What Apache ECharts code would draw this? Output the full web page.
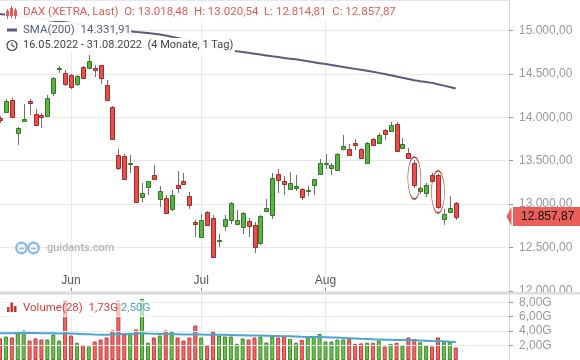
<!DOCTYPE html>
<html><head><meta charset="utf-8">
<script src="https://cdn.jsdelivr.net/npm/echarts@6/dist/echarts.min.js"></script>
<style>html,body{margin:0;padding:0;background:#fff}#c{width:580px;height:360px}</style>
</head><body><div id="c"></div>
<script>
// ---------- data ----------
const dates = [
'2022-05-16','2022-05-17','2022-05-18','2022-05-19','2022-05-20','2022-05-23','2022-05-24','2022-05-25','2022-05-26','2022-05-27','2022-05-30','2022-05-31',
'2022-06-01','2022-06-02','2022-06-03','2022-06-06','2022-06-07','2022-06-08','2022-06-09','2022-06-10','2022-06-13','2022-06-14','2022-06-15','2022-06-16','2022-06-17','2022-06-20','2022-06-21','2022-06-22','2022-06-23','2022-06-24','2022-06-27','2022-06-28','2022-06-29','2022-06-30',
'2022-07-01','2022-07-04','2022-07-05','2022-07-06','2022-07-07','2022-07-08','2022-07-11','2022-07-12','2022-07-13','2022-07-14','2022-07-15','2022-07-18','2022-07-19','2022-07-20','2022-07-21','2022-07-22','2022-07-25','2022-07-26','2022-07-27','2022-07-28','2022-07-29',
'2022-08-01','2022-08-02','2022-08-03','2022-08-04','2022-08-05','2022-08-08','2022-08-09','2022-08-10','2022-08-11','2022-08-12','2022-08-15','2022-08-16','2022-08-17','2022-08-18','2022-08-19','2022-08-22','2022-08-23','2022-08-24','2022-08-25','2022-08-26','2022-08-29','2022-08-30','2022-08-31'];
const futureDates = ['2022-09-01','2022-09-02','2022-09-05','2022-09-06','2022-09-07','2022-09-08','2022-09-09','2022-09-12','2022-09-13'];

const openP = [13991,14060,14195,13819,13957,14183,14042,14022,14014,14279,14560,14514,
14483,14387,14578,14571,14567,14598,14368,14118,13562,13554,13470,13435,13082,13197,13332,13052,13075,12948,13217,13263,13090,12794,
12622,12909,12845,12585,12748,12814,12776,12737,12802,12756,12546,12921,12879,13351,13263,13179,13179,13179,13155,13217,13351,
13462,13409,13397,13631,13639,13703,13639,13473,13746,13703,13850,13838,13927,13646,13588,13473,13151,13121,13332,13332,12833,12909,13018.48];
const highP = [14020,14214,14226,13890,14157,14214,14099,14053,14252,14465,14590,14540,
14500,14490,14590,14713,14598,14605,14425,14130,13639,13573,13562,13440,13243,13270,13447,13205,13109,13159,13378,13358,13139,12822,
12891,12917,12871,12661,12871,13024,12929,12910,12840,12794,12871,13055,13358,13401,13324,13370,13332,13190,13205,13295,13516,
13573,13478,13593,13792,13697,13746,13645,13710,13766,13823,13869,13945,13942,13761,13646,13504,13200,13243,13363,13343,12940,13090,13020.54];
const lowP = [13930,14053,13995,13685,13945,14022,13905,13876,14005,14244,14514,14360,
14330,14360,14440,14563,14463,14387,14185,13745,13389,13285,13363,13015,13024,13110,13275,12967,12895,12917,13133,13215,12948,12622,
12610,12755,12385,12507,12690,12776,12770,12661,12622,12442,12526,12915,12833,13133,13110,13170,13148,13052,13093,13101,13340,
13409,13340,13390,13620,13560,13620,13516,13462,13665,13695,13743,13830,13610,13640,13525,13185,13120,13082,13258,12940,12764,12900,12814.81];
const closeP = [13968,14183,14003,13881,13976,14164,13915,14003,14226,14456,14571,14387,
14341,14475,14456,14647,14544,14445,14195,13754,13416,13294,13478,13024,13128,13263,13282,13148,12902,13109,13179,13225,12986,12771,
12814,12764,12391,12592,12833,13013,12822,12902,12748,12507,12860,12960,13305,13282,13232,13248,13205,13082,13159,13286,13478,
13478,13447,13581,13669,13570,13685,13531,13703,13677,13792,13804,13907,13619,13697,13531,13225,13190,13217,13266,12967,12891,12960,12857.87];

const sma200 = [15190,15181,15173,15164,15156,15147,15138,15130,15121,15112,
15103,15094,15085,15076,15067,15058,15048,15039,15029,15019,
15009,14999,14989,14983,14976,14969,14961,14952,14942,14928,
14914,14899,14884,14868,14852,14836,14820,14803,14787,14770,
14760,14751,14742,14732,14722,14712,14702,14693,14683,14675,
14667,14656,14645,14634,14623,14612,14601,14590,14579,14568,
14557,14546,14535,14523,14511,14497,14483,14469,14455,14440,
14425,14415,14406,14396,14380,14364,14348,14331.91];

// volume in billions (G)
const volumeG = [3.00,3.25,3.12,3.71,4.09,2.70,2.98,2.84,2.84,3.53,2.70,8.24,
3.39,2.38,2.10,1.87,2.56,2.84,3.12,4.09,8.24,3.53,3.71,4.23,8.47,2.38,3.12,3.39,4.09,3.94,3.12,2.70,3.12,4.78,
3.12,2.01,3.94,3.39,3.25,3.25,2.24,2.98,2.84,3.12,3.25,2.42,3.25,3.12,3.25,2.91,2.38,2.77,3.14,3.14,3.60,
2.56,2.56,2.84,2.84,2.91,2.24,2.30,2.38,2.38,2.70,1.87,2.24,2.38,2.01,3.12,2.91,2.47,2.01,1.87,3.12,2.47,2.47,1.73];
const volumeMA28 = [3.70,3.72,3.72,3.74,3.76,3.75,3.74,3.72,3.72,3.70,3.68,
3.70,3.66,3.62,3.58,3.55,3.52,3.50,3.50,3.52,3.60,
3.60,3.58,3.62,3.72,3.66,3.62,3.60,3.60,3.58,3.56,
3.52,3.52,3.55,3.52,3.48,3.50,3.50,3.48,3.46,3.44,3.42,3.40,3.40,3.38,3.36,3.34,3.33,3.30,
3.28,3.25,3.22,3.20,3.18,3.17,3.15,3.12,3.10,3.06,3.02,2.98,2.94,2.92,2.88,2.85,2.82,2.80,2.78,2.76,2.74,2.72,2.70,2.66,2.62,2.60,2.58,2.54,2.50];

const priceTicks = {min: 12000, max: 15350, step: 500};
const volumeTicks = {min: 0, max: 9.14, step: 2};
const monthNames = ['Jan','Feb','Mär','Apr','Mai','Jun','Jul','Aug','Sep','Okt','Nov','Dez'];
const highlightDates = ['2022-08-22','2022-08-26'];
const highlightLevels = [13300, 13140];

// ---------- helpers ----------
function de(v, d) {
  const s = Math.abs(v).toFixed(d);
  let [a, b] = s.split('.');
  a = a.replace(/\B(?=(\d{3})+(?!\d))/g, '.');
  return (v < 0 ? '-' : '') + (b ? a + ',' + b : a);
}
const fmtDate = s => s.slice(8,10) + '.' + s.slice(5,7) + '.' + s.slice(0,4);
const allDates = dates.concat(futureDates);
const isMonthStart = i => i > 0 && i < dates.length && allDates[i].slice(5,7) !== allDates[i-1].slice(5,7);
const last = dates.length - 1;
const UP = {fill:'#5cb246', stroke:'#2e7a20'}, DOWN = {fill:'#e6504c', stroke:'#a82826'};
const VUP = {fill:'#6cc24c', stroke:'#3a8a28'}, VDOWN = {fill:'#f26a68', stroke:'#c23a36'};
const txtFont = 'Roboto, "Liberation Sans", sans-serif';
const axFont = '"Liberation Sans", Arial, sans-serif';
const gridCol = '#e8e8e8';

const candleData = dates.map((d, i) => [i, openP[i], closeP[i], lowP[i], highP[i]]);
const volData = volumeG.map((v, i) => {
  const up = closeP[i] >= openP[i];
  const c = up ? VUP : VDOWN;
  return {value: v, itemStyle: {color: c.fill, borderColor: c.stroke}};
});

const chart = echarts.init(document.getElementById('c'), null, {renderer: 'canvas'});
const monthFn = (idx) => isMonthStart(idx);

chart.setOption({
  animation: false,
  grid: [
    {left: -1, right: 71, top: 0, height: 291},
    {left: -1, right: 71, top: 294, bottom: 0}
  ],
  xAxis: [
    {type: 'category', gridIndex: 0, data: allDates, boundaryGap: false,
     axisLine: {show: false},
     axisTick: {show: true, inside: true, length: 3, interval: monthFn, lineStyle: {color: '#888'}},
     axisLabel: {show: true, inside: true, margin: 4, interval: monthFn, color: '#555', fontSize: 12, fontFamily: axFont,
       formatter: v => monthNames[+v.slice(5,7) - 1]},
     splitLine: {show: true, interval: monthFn, lineStyle: {color: gridCol}}},
    {type: 'category', gridIndex: 1, data: allDates, boundaryGap: false,
     axisLine: {show: false}, axisTick: {show: false}, axisLabel: {show: false},
     splitLine: {show: true, interval: monthFn, lineStyle: {color: gridCol}}}
  ],
  yAxis: [
    {type: 'value', gridIndex: 0, position: 'right', min: priceTicks.min, max: priceTicks.max, interval: priceTicks.step,
     axisLine: {show: true, lineStyle: {color: '#d6d6d6'}},
     axisTick: {show: true, length: 4, lineStyle: {color: '#999'}},
     axisLabel: {color: '#999', fontSize: 12, fontFamily: axFont, margin: 10, showMaxLabel: false, formatter: v => de(v, 2)},
     splitLine: {show: true, lineStyle: {color: gridCol}}},
    {type: 'value', gridIndex: 1, position: 'right', min: volumeTicks.min, max: volumeTicks.max, interval: volumeTicks.step, z: 3,
     axisLine: {show: true, lineStyle: {color: '#d6d6d6'}},
     axisTick: {show: true, length: 4, lineStyle: {color: '#999'}},
     axisLabel: {color: '#999', fontSize: 12, fontFamily: axFont, margin: 10, showMaxLabel: false, showMinLabel: false,
       formatter: v => de(v, 2) + 'G'},
     splitLine: {show: true, lineStyle: {color: gridCol}}}
  ],
  series: [
    {type: 'custom', name: 'DAX', xAxisIndex: 0, yAxisIndex: 0, data: candleData, z: 3,
     encode: {x: 0, y: [1, 2, 3, 4]},
     renderItem: (params, api) => {
       const i = api.value(0), o = api.value(1), c = api.value(2), l = api.value(3), h = api.value(4);
       const pO = api.coord([i, o]), pC = api.coord([i, c]), pL = api.coord([i, l]), pH = api.coord([i, h]);
       const cx = Math.round(pO[0]);
       const st = c >= o ? UP : DOWN;
       const top = Math.round(Math.min(pO[1], pC[1])) + 0.5;
       const bh = Math.max(Math.round(Math.abs(pO[1] - pC[1])), 1);
       return {type: 'group', children: [
         {type: 'line', shape: {x1: cx + 0.5, y1: Math.round(pH[1]), x2: cx + 0.5, y2: Math.round(pL[1])}, style: {stroke: '#6f6f6f', lineWidth: 1}},
         {type: 'rect', shape: {x: cx - 1.5, y: top, width: 4, height: bh}, style: {fill: st.fill, stroke: st.stroke, lineWidth: 1}}
       ]};
     }},
    {type: 'line', name: 'SMA(200)', xAxisIndex: 0, yAxisIndex: 0, data: sma200, showSymbol: false, z: 2,
     lineStyle: {color: '#5a5a82', width: 2}, itemStyle: {color: '#5a5a82'},
     markPoint: {silent: true, symbol: 'path://M0,50A50,50 0 1,1 100,50A50,50 0 1,1 0,50Z', symbolSize: [13, 42],
       itemStyle: {color: 'rgba(0,0,0,0)', borderColor: '#c0392b', borderWidth: 1},
       label: {show: false},
       data: highlightDates.map((d, k) => ({coord: [d, highlightLevels[k]]}))},
     markLine: {silent: true, symbol: ['none', 'path://M0,5L5,0L5,10Z'], symbolSize: [5, 19], symbolRotate: 0, symbolOffset: [2.5, 0],
       lineStyle: {width: 0, color: '#ea5f5a'},
       label: {position: 'end', distance: 4, formatter: () => de(closeP[last], 2), color: '#111', backgroundColor: '#ea5f5a',
         padding: [4, 8, 3, 8], fontSize: 12, fontFamily: axFont},
       data: [{yAxis: closeP[last]}]}},
    {type: 'bar', name: 'Volume', xAxisIndex: 1, yAxisIndex: 1, data: volData, barWidth: 4, z: 2,
     itemStyle: {borderWidth: 1}},
    {type: 'line', name: 'MA28', xAxisIndex: 1, yAxisIndex: 1, data: volumeMA28, showSymbol: false, z: 3,
     lineStyle: {color: '#4ca6cc', width: 2}}
  ],
  graphic: [
    {type: 'rect', z: 1, shape: {x: 510, y: 292, width: 70, height: 6}, style: {fill: '#fff'}},
    {type: 'rect', z: 1, shape: {x: 0, y: 292, width: 580, height: 2.5}, style: {fill: '#dcdcdc'}},
    // legend backgrounds
    {type: 'rect', z: 10, shape: {x: 5, y: 4, width: 460, height: 17}, style: {fill: 'rgba(255,255,255,0.95)'}},
    {type: 'rect', z: 10, shape: {x: 3, y: 22, width: 128, height: 16}, style: {fill: 'rgba(255,255,255,0.95)'}},
    {type: 'rect', z: 10, shape: {x: 3, y: 38, width: 232, height: 15}, style: {fill: 'rgba(255,255,255,0.95)'}},
    {type: 'rect', z: 10, shape: {x: 3, y: 300, width: 150, height: 17}, style: {fill: 'rgba(255,255,255,0.6)'}},
    // row 1 icon (mini candles)
    {type: 'group', z: 11, children: [
      {type: 'line', z: 11, shape: {x1: 7.5, y1: 9, x2: 7.5, y2: 19}, style: {stroke: '#e05a57', lineWidth: 1}},
      {type: 'rect', z: 11, shape: {x: 6, y: 11, width: 3, height: 5}, style: {fill: '#e05a57'}},
      {type: 'line', z: 11, shape: {x1: 11.5, y1: 6, x2: 11.5, y2: 18}, style: {stroke: '#e05a57', lineWidth: 1}},
      {type: 'rect', z: 11, shape: {x: 10, y: 8, width: 3, height: 8}, style: {fill: '#e05a57'}},
      {type: 'line', z: 11, shape: {x1: 15.5, y1: 8, x2: 15.5, y2: 19}, style: {stroke: '#e05a57', lineWidth: 1}},
      {type: 'rect', z: 11, shape: {x: 14, y: 10, width: 3, height: 6}, style: {fill: '#e05a57'}}
    ]},
    {type: 'text', z: 11, x: 23, y: 12.5, style: {text: 'DAX (XETRA, Last)  O: ' + de(openP[last], 2) + '  H: ' + de(highP[last], 2) + '  L: ' + de(lowP[last], 2) + '  C: ' + de(closeP[last], 2),
      fill: '#e05a57', font: '11.5px ' + txtFont, verticalAlign: 'middle'}},
    // row 2
    {type: 'rect', z: 11, shape: {x: 7, y: 28.5, width: 10, height: 3}, style: {fill: '#5a5a82'}},
    {type: 'text', z: 11, x: 23, y: 30.5, style: {text: 'SMA(200)  ' + de(sma200[last], 2), fill: '#5a5a7e', font: '11.5px ' + txtFont, verticalAlign: 'middle'}},
    // row 3
    {type: 'circle', z: 11, shape: {cx: 12, cy: 45.5, r: 5}, style: {fill: 'none', stroke: '#444', lineWidth: 1.2}},
    {type: 'polyline', z: 11, shape: {points: [[12, 42.5], [12, 45.5], [14.5, 47]]}, style: {fill: 'none', stroke: '#444', lineWidth: 1.1}},
    {type: 'text', z: 11, x: 23, y: 45.5, style: {text: fmtDate(dates[0]) + ' - ' + fmtDate(dates[last]) + '  (4 Monate, 1 Tag)', fill: '#444', font: '11px ' + txtFont, verticalAlign: 'middle'}},
    // volume legend
    {type: 'group', z: 11, children: [
      {type: 'rect', z: 11, shape: {x: 7, y: 307, width: 2.5, height: 5}, style: {fill: '#c9302c'}},
      {type: 'rect', z: 11, shape: {x: 10.5, y: 302.5, width: 2.5, height: 9.5}, style: {fill: '#c9302c'}},
      {type: 'rect', z: 11, shape: {x: 14, y: 306, width: 2.5, height: 6}, style: {fill: '#c9302c'}}
    ]},
    {type: 'text', z: 11, x: 23, y: 308.5, style: {text: '{a|Volume(28)  ' + de(volumeG[last], 2) + 'G} {b|' + de(volumeMA28[last], 2) + 'G}',
      font: '11.5px ' + txtFont, verticalAlign: 'middle',
      rich: {a: {fill: '#d0413d', font: '11.5px ' + txtFont}, b: {fill: '#4ca6cc', font: '11.5px ' + txtFont}}}},
    // watermark
    {type: 'circle', z: 1, shape: {cx: 21.5, cy: 248, r: 5.2}, style: {fill: 'none', stroke: '#8db7e8', lineWidth: 2.4}},
    {type: 'circle', z: 1, shape: {cx: 33.5, cy: 248, r: 5.2}, style: {fill: 'none', stroke: '#8db7e8', lineWidth: 2.4}},
    {type: 'line', z: 1, shape: {x1: 19, y1: 248.5, x2: 24, y2: 248.5}, style: {stroke: '#8db7e8', lineWidth: 1.6}},
    {type: 'line', z: 1, shape: {x1: 31, y1: 248.5, x2: 36, y2: 248.5}, style: {stroke: '#8db7e8', lineWidth: 1.6}},
    {type: 'text', z: 1, x: 47, y: 248, style: {text: 'guidants.com', fill: '#b4b4b4', font: '500 11px ' + txtFont, verticalAlign: 'middle'}}
  ]
});
</script>
</body></html>
